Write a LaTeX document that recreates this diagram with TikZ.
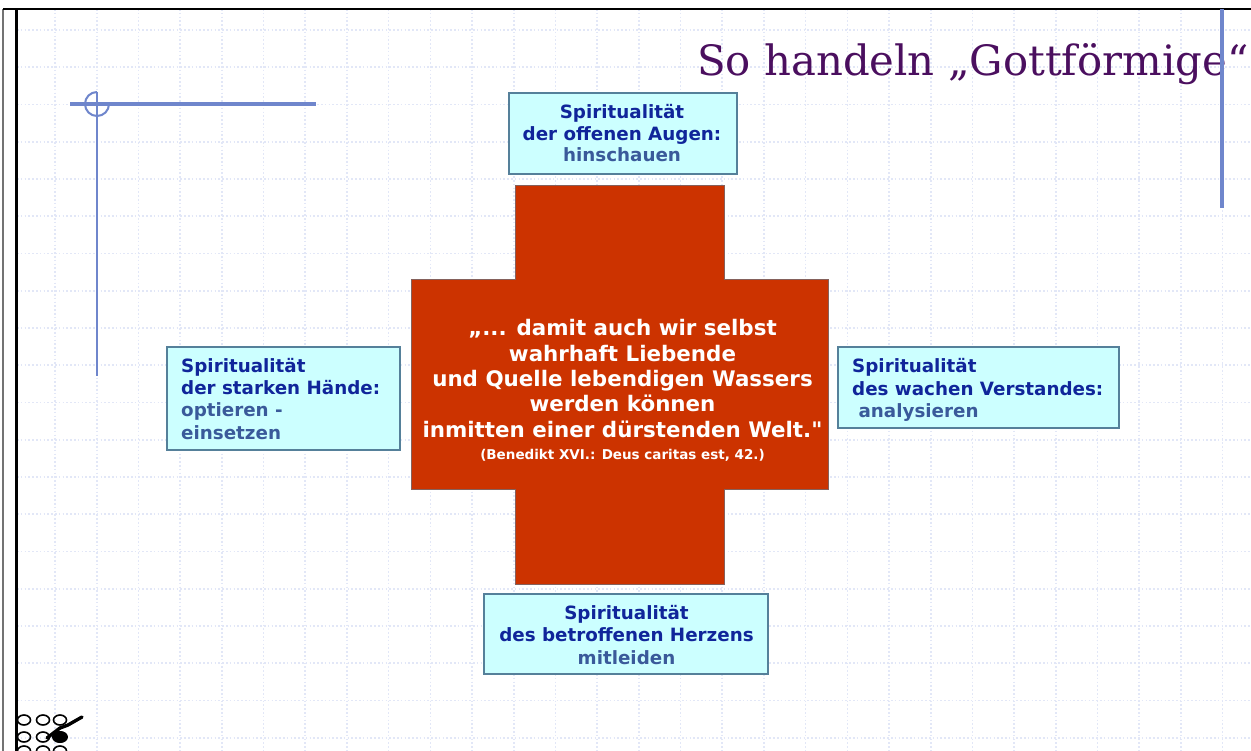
\documentclass[tikz,border=0pt]{standalone}
\usepackage{fontspec}
\setmainfont{DejaVu Sans}
\newfontfamily\titlefont{DejaVu Serif}
\newfontfamily\plainquote{DejaVu Sans}
\definecolor{crossred}{HTML}{CC3300}
\definecolor{boxfill}{HTML}{CCFFFF}
\definecolor{boxedge}{HTML}{55809A}
\definecolor{boxtext}{HTML}{10259A}
\definecolor{boxsub}{HTML}{3A5A9A}
\definecolor{rule}{HTML}{6F86CC}
\definecolor{gridc}{HTML}{E2E7F7}
\definecolor{titlec}{HTML}{4B0F5F}
\tikzset{
  x=1pt,y=-1pt,
  infobox/.style={draw=boxedge,line width=2.2pt,fill=boxfill},
  infotext/.style={text=boxtext,font=\fontsize{18.3}{22.3}\selectfont\bfseries,inner sep=0pt},
  toptext/.style={text=boxtext,font=\fontsize{18.3}{21.5}\selectfont\bfseries,inner sep=0pt},
  gridline/.style={draw=gridc,line width=1.6pt,dash pattern=on 1.6pt off 2.2pt},
  mark circle/.style={draw=black,line width=1.6pt},
}
\begin{document}
\begin{tikzpicture}
\useasboundingbox (0,0) rectangle (1251,751);
\fill[white] (0,0) rectangle (1251,751);
% grid
\foreach \i in {0,...,28} \draw[gridline] ({55+41.7*\i},9) -- ({55+41.7*\i},751);
\foreach \j in {0,...,19} \draw[gridline] (17,{30+37.25*\j}) -- (1251,{30+37.25*\j});
% frame
\draw[black!55,line width=1.2pt] (3,9) -- (3,751);
\draw[black,line width=3pt] (16,9) -- (16,751);
\draw[black,line width=1.6pt] (3,9) -- (1251,9);
% guide lines
\draw[rule,line width=3.6pt] (70,104) -- (316,104);
\draw[rule,line width=2.6pt] (97,92) -- (97,376);
\draw[rule,line width=2pt] (97,92) arc[start angle=90,delta angle=270,radius=12pt];
% title
\node[anchor=base west,inner sep=0pt,text=titlec,font=\titlefont\fontsize{41.8}{42}\selectfont] (title) at (697,76) {So handeln „Gottförmige“};
\draw[rule,line width=4.2pt] (1222,9) -- (1222,208);
% cross
\draw[draw=boxedge!60!crossred,line width=1pt,fill=crossred] (515,186) -- (724,186) -- (724,280) -- (828,280) -- (828,489) -- (724,489) -- (724,584) -- (515,584) -- (515,489) -- (411,489) -- (411,280) -- (515,280) -- cycle;
\node[align=center,text=white,inner sep=0pt,font=\fontsize{21.4}{25.3}\selectfont\bfseries] (quote) at (622.5,390.5) {„... damit auch wir selbst\\wahrhaft Liebende\\und Quelle lebendigen Wassers\\werden können\\inmitten einer dürstenden Welt.{\plainquote\bfseries"}\\[-3pt]{\fontsize{13.5}{16}\selectfont (Benedikt XVI.: Deus caritas est, 42.)}};
% boxes
\draw[infobox] (509,93) rectangle (737,174);
\node[toptext,align=center] (top) at (622,133.5) {Spiritualität\\der offenen Augen:\\{\color{boxsub}hinschauen}};
\draw[infobox] (167,347) rectangle (400,450);
\node[infotext,align=left,anchor=north west] (left) at (181,358) {Spiritualität\\der starken Hände:\\{\color{boxsub}optieren -}\\{\color{boxsub}einsetzen}};
\draw[infobox] (838,347) rectangle (1119,428);
\node[infotext,align=left,anchor=north west] (right) at (852,358.5) {Spiritualität\\des wachen Verstandes:\\{\color{boxsub}\ analysieren}};
\draw[infobox] (484,594) rectangle (768,674);
\node[infotext,align=center] (bottom) at (626.5,635) {Spiritualität\\des betroffenen Herzens\\{\color{boxsub}mitleiden}};
% logo
\foreach \cx in {24,43,60} \foreach \cy in {720,737} \draw[mark circle] (\cx,\cy) ellipse[x radius=6.5,y radius=5];
\foreach \cx in {24,43,60} \draw[mark circle] (\cx,751) ellipse[x radius=6.5,y radius=5];
\fill[black] (60,737) ellipse[x radius=8,y radius=6];
\draw[black,line width=3.4pt,line cap=round,line join=round] (47,738) -- (60,728) -- (68,725) -- (82,717);
\end{tikzpicture}
\end{document}
